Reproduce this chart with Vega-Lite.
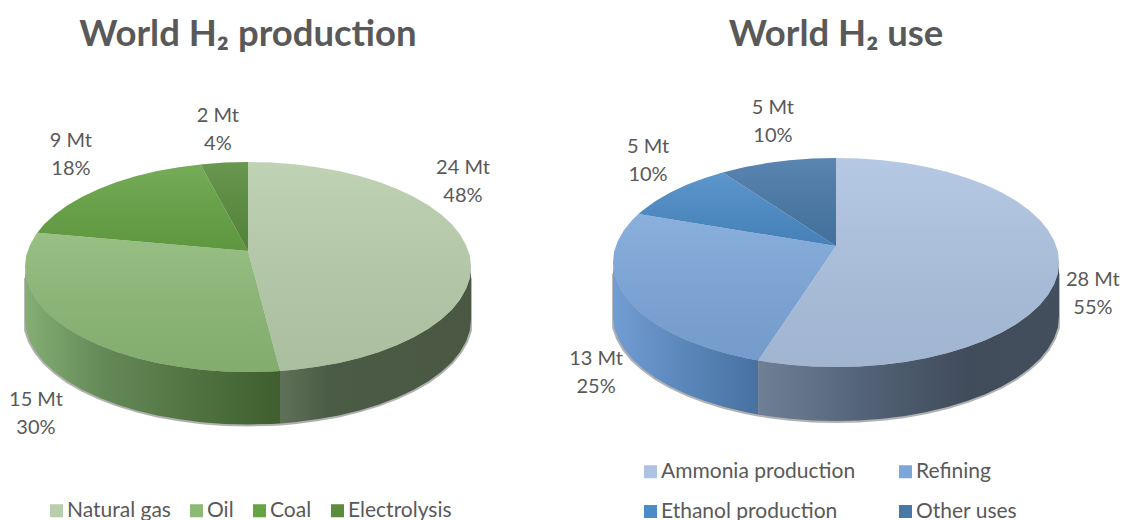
{
"$schema":"https://vega.github.io/schema/vega-lite/v6.json",
"padding":0,
"spacing":0,
"background":"white",
"config":{"view":{"stroke":null},"font":"Lato"},
"datasets":{
"productionFaces":[
{"slice":"Natural gas","v":0,"x":0,"y":0.152},{"slice":"Natural gas","v":1,"x":0,"y":1},{"slice":"Natural gas","v":2,"x":0.105,"y":0.995},{"slice":"Natural gas","v":3,"x":0.208,"y":0.978},{"slice":"Natural gas","v":4,"x":0.309,"y":0.951},{"slice":"Natural gas","v":5,"x":0.407,"y":0.914},{"slice":"Natural gas","v":6,"x":0.5,"y":0.866},{"slice":"Natural gas","v":7,"x":0.588,"y":0.809},{"slice":"Natural gas","v":8,"x":0.669,"y":0.743},{"slice":"Natural gas","v":9,"x":0.743,"y":0.669},{"slice":"Natural gas","v":10,"x":0.809,"y":0.588},{"slice":"Natural gas","v":11,"x":0.866,"y":0.5},{"slice":"Natural gas","v":12,"x":0.914,"y":0.407},{"slice":"Natural gas","v":13,"x":0.951,"y":0.309},{"slice":"Natural gas","v":14,"x":0.978,"y":0.208},{"slice":"Natural gas","v":15,"x":0.995,"y":0.105},{"slice":"Natural gas","v":16,"x":1,"y":0},{"slice":"Natural gas","v":17,"x":0.995,"y":-0.105},{"slice":"Natural gas","v":18,"x":0.978,"y":-0.208},{"slice":"Natural gas","v":19,"x":0.951,"y":-0.309},{"slice":"Natural gas","v":20,"x":0.914,"y":-0.407},{"slice":"Natural gas","v":21,"x":0.866,"y":-0.5},{"slice":"Natural gas","v":22,"x":0.809,"y":-0.588},{"slice":"Natural gas","v":23,"x":0.743,"y":-0.669},{"slice":"Natural gas","v":24,"x":0.669,"y":-0.743},{"slice":"Natural gas","v":25,"x":0.588,"y":-0.809},{"slice":"Natural gas","v":26,"x":0.5,"y":-0.866},{"slice":"Natural gas","v":27,"x":0.407,"y":-0.914},{"slice":"Natural gas","v":28,"x":0.309,"y":-0.951},{"slice":"Natural gas","v":29,"x":0.208,"y":-0.978},{"slice":"Natural gas","v":30,"x":0.1435,"y":-0.9897},
{"slice":"Oil","v":0,"x":0,"y":0.152},{"slice":"Oil","v":1,"x":0.1435,"y":-0.9897},{"slice":"Oil","v":2,"x":0.105,"y":-0.995},{"slice":"Oil","v":3,"x":0,"y":-1},{"slice":"Oil","v":4,"x":-0.105,"y":-0.995},{"slice":"Oil","v":5,"x":-0.208,"y":-0.978},{"slice":"Oil","v":6,"x":-0.309,"y":-0.951},{"slice":"Oil","v":7,"x":-0.407,"y":-0.914},{"slice":"Oil","v":8,"x":-0.5,"y":-0.866},{"slice":"Oil","v":9,"x":-0.588,"y":-0.809},{"slice":"Oil","v":10,"x":-0.669,"y":-0.743},{"slice":"Oil","v":11,"x":-0.743,"y":-0.669},{"slice":"Oil","v":12,"x":-0.809,"y":-0.588},{"slice":"Oil","v":13,"x":-0.866,"y":-0.5},{"slice":"Oil","v":14,"x":-0.914,"y":-0.407},{"slice":"Oil","v":15,"x":-0.951,"y":-0.309},{"slice":"Oil","v":16,"x":-0.978,"y":-0.208},{"slice":"Oil","v":17,"x":-0.995,"y":-0.105},{"slice":"Oil","v":18,"x":-1,"y":0},{"slice":"Oil","v":19,"x":-0.995,"y":0.105},{"slice":"Oil","v":20,"x":-0.978,"y":0.208},{"slice":"Oil","v":21,"x":-0.951,"y":0.309},{"slice":"Oil","v":22,"x":-0.945,"y":0.327},
{"slice":"Coal","v":0,"x":0,"y":0.152},{"slice":"Coal","v":1,"x":-0.945,"y":0.327},{"slice":"Coal","v":2,"x":-0.914,"y":0.407},{"slice":"Coal","v":3,"x":-0.866,"y":0.5},{"slice":"Coal","v":4,"x":-0.809,"y":0.588},{"slice":"Coal","v":5,"x":-0.743,"y":0.669},{"slice":"Coal","v":6,"x":-0.669,"y":0.743},{"slice":"Coal","v":7,"x":-0.588,"y":0.809},{"slice":"Coal","v":8,"x":-0.5,"y":0.866},{"slice":"Coal","v":9,"x":-0.407,"y":0.914},{"slice":"Coal","v":10,"x":-0.309,"y":0.951},{"slice":"Coal","v":11,"x":-0.213,"y":0.977},
{"slice":"Electrolysis","v":0,"x":0,"y":0.152},{"slice":"Electrolysis","v":1,"x":-0.213,"y":0.977},{"slice":"Electrolysis","v":2,"x":-0.105,"y":0.995},{"slice":"Electrolysis","v":3,"x":0,"y":1}
],
"productionWalls":[
{"slice":"Natural gas","x":1,"y":0,"y2":-0.5},{"slice":"Natural gas","x":0.995,"y":-0.105,"y2":-0.605},{"slice":"Natural gas","x":0.978,"y":-0.208,"y2":-0.708},{"slice":"Natural gas","x":0.951,"y":-0.309,"y2":-0.809},{"slice":"Natural gas","x":0.914,"y":-0.407,"y2":-0.907},{"slice":"Natural gas","x":0.866,"y":-0.5,"y2":-1},{"slice":"Natural gas","x":0.809,"y":-0.588,"y2":-1.088},{"slice":"Natural gas","x":0.743,"y":-0.669,"y2":-1.169},{"slice":"Natural gas","x":0.669,"y":-0.743,"y2":-1.243},{"slice":"Natural gas","x":0.588,"y":-0.809,"y2":-1.309},{"slice":"Natural gas","x":0.5,"y":-0.866,"y2":-1.366},{"slice":"Natural gas","x":0.407,"y":-0.914,"y2":-1.414},{"slice":"Natural gas","x":0.309,"y":-0.951,"y2":-1.451},{"slice":"Natural gas","x":0.208,"y":-0.978,"y2":-1.478},{"slice":"Natural gas","x":0.1435,"y":-0.9897,"y2":-1.4897},
{"slice":"Oil","x":0.1435,"y":-0.9897,"y2":-1.4897},{"slice":"Oil","x":0.105,"y":-0.995,"y2":-1.495},{"slice":"Oil","x":0,"y":-1,"y2":-1.5},{"slice":"Oil","x":-0.105,"y":-0.995,"y2":-1.495},{"slice":"Oil","x":-0.208,"y":-0.978,"y2":-1.478},{"slice":"Oil","x":-0.309,"y":-0.951,"y2":-1.451},{"slice":"Oil","x":-0.407,"y":-0.914,"y2":-1.414},{"slice":"Oil","x":-0.5,"y":-0.866,"y2":-1.366},{"slice":"Oil","x":-0.588,"y":-0.809,"y2":-1.309},{"slice":"Oil","x":-0.669,"y":-0.743,"y2":-1.243},{"slice":"Oil","x":-0.743,"y":-0.669,"y2":-1.169},{"slice":"Oil","x":-0.809,"y":-0.588,"y2":-1.088},{"slice":"Oil","x":-0.866,"y":-0.5,"y2":-1},{"slice":"Oil","x":-0.914,"y":-0.407,"y2":-0.907},{"slice":"Oil","x":-0.951,"y":-0.309,"y2":-0.809},{"slice":"Oil","x":-0.978,"y":-0.208,"y2":-0.708},{"slice":"Oil","x":-0.995,"y":-0.105,"y2":-0.605},{"slice":"Oil","x":-1,"y":0,"y2":-0.5}
],
"productionLabels":[
{"label":"24 Mt\n48%","x":0.964,"y":0.943},{"label":"15 Mt\n30%","x":-0.951,"y":-1.267},{"label":"9 Mt\n18%","x":-0.794,"y":1.2},{"label":"2 Mt\n4%","x":-0.135,"y":1.438}
],
"useFaces":[
{"slice":"Ammonia production","v":0,"x":0,"y":0.158},{"slice":"Ammonia production","v":1,"x":0,"y":1},{"slice":"Ammonia production","v":2,"x":0.105,"y":0.995},{"slice":"Ammonia production","v":3,"x":0.208,"y":0.978},{"slice":"Ammonia production","v":4,"x":0.309,"y":0.951},{"slice":"Ammonia production","v":5,"x":0.407,"y":0.914},{"slice":"Ammonia production","v":6,"x":0.5,"y":0.866},{"slice":"Ammonia production","v":7,"x":0.588,"y":0.809},{"slice":"Ammonia production","v":8,"x":0.669,"y":0.743},{"slice":"Ammonia production","v":9,"x":0.743,"y":0.669},{"slice":"Ammonia production","v":10,"x":0.809,"y":0.588},{"slice":"Ammonia production","v":11,"x":0.866,"y":0.5},{"slice":"Ammonia production","v":12,"x":0.914,"y":0.407},{"slice":"Ammonia production","v":13,"x":0.951,"y":0.309},{"slice":"Ammonia production","v":14,"x":0.978,"y":0.208},{"slice":"Ammonia production","v":15,"x":0.995,"y":0.105},{"slice":"Ammonia production","v":16,"x":1,"y":0},{"slice":"Ammonia production","v":17,"x":0.995,"y":-0.105},{"slice":"Ammonia production","v":18,"x":0.978,"y":-0.208},{"slice":"Ammonia production","v":19,"x":0.951,"y":-0.309},{"slice":"Ammonia production","v":20,"x":0.914,"y":-0.407},{"slice":"Ammonia production","v":21,"x":0.866,"y":-0.5},{"slice":"Ammonia production","v":22,"x":0.809,"y":-0.588},{"slice":"Ammonia production","v":23,"x":0.743,"y":-0.669},{"slice":"Ammonia production","v":24,"x":0.669,"y":-0.743},{"slice":"Ammonia production","v":25,"x":0.588,"y":-0.809},{"slice":"Ammonia production","v":26,"x":0.5,"y":-0.866},{"slice":"Ammonia production","v":27,"x":0.407,"y":-0.914},{"slice":"Ammonia production","v":28,"x":0.309,"y":-0.951},{"slice":"Ammonia production","v":29,"x":0.208,"y":-0.978},{"slice":"Ammonia production","v":30,"x":0.105,"y":-0.995},{"slice":"Ammonia production","v":31,"x":0,"y":-1},{"slice":"Ammonia production","v":32,"x":-0.105,"y":-0.995},{"slice":"Ammonia production","v":33,"x":-0.208,"y":-0.978},{"slice":"Ammonia production","v":34,"x":-0.309,"y":-0.951},{"slice":"Ammonia production","v":35,"x":-0.349,"y":-0.937},
{"slice":"Refining","v":0,"x":0,"y":0.158},{"slice":"Refining","v":1,"x":-0.349,"y":-0.937},{"slice":"Refining","v":2,"x":-0.407,"y":-0.914},{"slice":"Refining","v":3,"x":-0.5,"y":-0.866},{"slice":"Refining","v":4,"x":-0.588,"y":-0.809},{"slice":"Refining","v":5,"x":-0.669,"y":-0.743},{"slice":"Refining","v":6,"x":-0.743,"y":-0.669},{"slice":"Refining","v":7,"x":-0.809,"y":-0.588},{"slice":"Refining","v":8,"x":-0.866,"y":-0.5},{"slice":"Refining","v":9,"x":-0.914,"y":-0.407},{"slice":"Refining","v":10,"x":-0.951,"y":-0.309},{"slice":"Refining","v":11,"x":-0.978,"y":-0.208},{"slice":"Refining","v":12,"x":-0.995,"y":-0.105},{"slice":"Refining","v":13,"x":-1,"y":0},{"slice":"Refining","v":14,"x":-0.995,"y":0.105},{"slice":"Refining","v":15,"x":-0.978,"y":0.208},{"slice":"Refining","v":16,"x":-0.951,"y":0.309},{"slice":"Refining","v":17,"x":-0.914,"y":0.407},{"slice":"Refining","v":18,"x":-0.886,"y":0.463},
{"slice":"Ethanol production","v":0,"x":0,"y":0.158},{"slice":"Ethanol production","v":1,"x":-0.886,"y":0.463},{"slice":"Ethanol production","v":2,"x":-0.866,"y":0.5},{"slice":"Ethanol production","v":3,"x":-0.809,"y":0.588},{"slice":"Ethanol production","v":4,"x":-0.743,"y":0.669},{"slice":"Ethanol production","v":5,"x":-0.669,"y":0.743},{"slice":"Ethanol production","v":6,"x":-0.588,"y":0.809},{"slice":"Ethanol production","v":7,"x":-0.508,"y":0.862},
{"slice":"Other uses","v":0,"x":0,"y":0.158},{"slice":"Other uses","v":1,"x":-0.508,"y":0.862},{"slice":"Other uses","v":2,"x":-0.407,"y":0.914},{"slice":"Other uses","v":3,"x":-0.309,"y":0.951},{"slice":"Other uses","v":4,"x":-0.208,"y":0.978},{"slice":"Other uses","v":5,"x":-0.105,"y":0.995},{"slice":"Other uses","v":6,"x":0,"y":1}
],
"useWalls":[
{"slice":"Ammonia production","x":1,"y":0,"y2":-0.517},{"slice":"Ammonia production","x":0.995,"y":-0.105,"y2":-0.622},{"slice":"Ammonia production","x":0.978,"y":-0.208,"y2":-0.725},{"slice":"Ammonia production","x":0.951,"y":-0.309,"y2":-0.826},{"slice":"Ammonia production","x":0.914,"y":-0.407,"y2":-0.924},{"slice":"Ammonia production","x":0.866,"y":-0.5,"y2":-1.017},{"slice":"Ammonia production","x":0.809,"y":-0.588,"y2":-1.105},{"slice":"Ammonia production","x":0.743,"y":-0.669,"y2":-1.186},{"slice":"Ammonia production","x":0.669,"y":-0.743,"y2":-1.26},{"slice":"Ammonia production","x":0.588,"y":-0.809,"y2":-1.326},{"slice":"Ammonia production","x":0.5,"y":-0.866,"y2":-1.383},{"slice":"Ammonia production","x":0.407,"y":-0.914,"y2":-1.431},{"slice":"Ammonia production","x":0.309,"y":-0.951,"y2":-1.468},{"slice":"Ammonia production","x":0.208,"y":-0.978,"y2":-1.495},{"slice":"Ammonia production","x":0.105,"y":-0.995,"y2":-1.512},{"slice":"Ammonia production","x":0,"y":-1,"y2":-1.517},{"slice":"Ammonia production","x":-0.105,"y":-0.995,"y2":-1.512},{"slice":"Ammonia production","x":-0.208,"y":-0.978,"y2":-1.495},{"slice":"Ammonia production","x":-0.309,"y":-0.951,"y2":-1.468},{"slice":"Ammonia production","x":-0.349,"y":-0.937,"y2":-1.454},
{"slice":"Refining","x":-0.349,"y":-0.937,"y2":-1.454},{"slice":"Refining","x":-0.407,"y":-0.914,"y2":-1.431},{"slice":"Refining","x":-0.5,"y":-0.866,"y2":-1.383},{"slice":"Refining","x":-0.588,"y":-0.809,"y2":-1.326},{"slice":"Refining","x":-0.669,"y":-0.743,"y2":-1.26},{"slice":"Refining","x":-0.743,"y":-0.669,"y2":-1.186},{"slice":"Refining","x":-0.809,"y":-0.588,"y2":-1.105},{"slice":"Refining","x":-0.866,"y":-0.5,"y2":-1.017},{"slice":"Refining","x":-0.914,"y":-0.407,"y2":-0.924},{"slice":"Refining","x":-0.951,"y":-0.309,"y2":-0.826},{"slice":"Refining","x":-0.978,"y":-0.208,"y2":-0.725},{"slice":"Refining","x":-0.995,"y":-0.105,"y2":-0.622},{"slice":"Refining","x":-1,"y":0,"y2":-0.517}
],
"useLabels":[
{"label":"28 Mt\n55%","x":1.152,"y":-0.167},{"label":"13 Mt\n25%","x":-1.076,"y":-0.923},{"label":"5 Mt\n10%","x":-0.843,"y":1.105},{"label":"5 Mt\n10%","x":-0.283,"y":1.478}
]
},
"hconcat":[
{
"width":561,"height":520,
"encoding":{
"x":{"field":"x","type":"quantitative","axis":null,"scale":{"domain":[-1.1121,1.4036],"nice":false,"zero":false}},
"y":{"field":"y","type":"quantitative","axis":null,"scale":{"domain":[-2.4095,2.5429],"nice":false,"zero":false}}
},
"layer":[
{"data":{"name":"productionWalls"},"transform":[{"filter":"abs(datum.x) < 1"}],"mark":{"type":"area","orient":"vertical","color":"#222222","stroke":"#222222","strokeWidth":4,"opacity":0.35},"encoding":{"y2":{"field":"y2"}}},
{"data":{"name":"productionWalls"},"transform":[{"filter":"datum.slice === 'Oil'"}],"mark":{"type":"area","orient":"vertical","color":{"gradient":"linear","x1":0,"y1":0,"x2":1,"y2":0,"stops":[{"offset":0,"color":"#84AE74"},{"offset":0.3,"color":"#648A58"},{"offset":0.7,"color":"#4F703F"},{"offset":1,"color":"#3F5F2E"}]}},"encoding":{"y2":{"field":"y2"}}},
{"data":{"name":"productionWalls"},"transform":[{"filter":"datum.slice === 'Natural gas'"}],"mark":{"type":"area","orient":"vertical","color":{"gradient":"linear","x1":0,"y1":0,"x2":1,"y2":0,"stops":[{"offset":0,"color":"#5F7258"},{"offset":0.25,"color":"#4B5C46"},{"offset":1,"color":"#4A5743"}]}},"encoding":{"y2":{"field":"y2"}}},
{"data":{"name":"productionFaces"},"mark":{"type":"line","filled":true,"strokeWidth":0},
"encoding":{"color":{"field":"slice","type":"nominal","scale":{"domain":["Natural gas","Oil","Coal","Electrolysis"],"range":["#B8CEAC","#8DB977","#66A345","#5A8C3C"]},
"legend":{"title":null,"orient":"none","direction":"horizontal","legendX":46,"legendY":500,"columns":4,"symbolType":"square","symbolSize":170,"symbolStrokeWidth":0,"labelFont":"Lato","labelFontSize":21,"labelColor":"#595959","columnPadding":15,"labelOffset":0,"labelLimit":300}},"order":{"field":"v"}}},
{"data":{"name":"productionFaces"},"mark":{"type":"line","filled":true,"strokeWidth":0,"color":{"gradient":"linear","x1":0,"y1":0,"x2":0,"y2":1,"stops":[{"offset":0,"color":"rgba(255,255,255,0.1)"},{"offset":1,"color":"rgba(0,0,0,0.07)"}]}},"encoding":{"detail":{"field":"slice"},"order":{"field":"v"}}},
{"data":{"name":"productionLabels"},"mark":{"type":"text","lineBreak":"\n","lineHeight":28,"fontSize":20,"font":"Lato","color":"#595959"},"encoding":{"text":{"field":"label"}}},
{"data":{"values":[{"title":"World H₂ production","x":0,"y":2.21}]},"mark":{"type":"text","fontSize":36.5,"font":"Lato","fontWeight":"bold","color":"#595959"},"encoding":{"text":{"field":"title"}}}
]
},
{
"width":561,"height":520,
"encoding":{
"x":{"field":"x","type":"quantitative","axis":null,"scale":{"domain":[-1.2332,1.2825],"nice":false,"zero":false}},
"y":{"field":"y","type":"quantitative","axis":null,"scale":{"domain":[-2.4641,2.512],"nice":false,"zero":false}}
},
"layer":[
{"data":{"name":"useWalls"},"transform":[{"filter":"abs(datum.x) < 1"}],"mark":{"type":"area","orient":"vertical","color":"#222222","stroke":"#222222","strokeWidth":4,"opacity":0.35},"encoding":{"y2":{"field":"y2"}}},
{"data":{"name":"useWalls"},"transform":[{"filter":"datum.slice === 'Refining'"}],"mark":{"type":"area","orient":"vertical","color":{"gradient":"linear","x1":0,"y1":0,"x2":1,"y2":0,"stops":[{"offset":0,"color":"#719DD3"},{"offset":0.5,"color":"#5A86BA"},{"offset":1,"color":"#47719F"}]}},"encoding":{"y2":{"field":"y2"}}},
{"data":{"name":"useWalls"},"transform":[{"filter":"datum.slice === 'Ammonia production'"}],"mark":{"type":"area","orient":"vertical","color":{"gradient":"linear","x1":0,"y1":0,"x2":1,"y2":0,"stops":[{"offset":0,"color":"#6F8096"},{"offset":0.4,"color":"#505F73"},{"offset":0.7,"color":"#414C5B"},{"offset":1,"color":"#444F5E"}]}},"encoding":{"y2":{"field":"y2"}}},
{"data":{"name":"useFaces"},"mark":{"type":"line","filled":true,"strokeWidth":0},
"encoding":{"color":{"field":"slice","type":"nominal","scale":{"domain":["Ammonia production","Refining","Ethanol production","Other uses"],"range":["#ADC3E1","#7DA7DA","#4B8BC7","#4878A8"]},
"legend":{"title":null,"orient":"none","direction":"horizontal","legendX":79,"legendY":461,"columns":2,"symbolType":"square","symbolSize":170,"symbolStrokeWidth":0,"labelFont":"Lato","labelFontSize":21,"labelColor":"#595959","columnPadding":39,"rowPadding":18,"labelOffset":0,"labelLimit":300}},"order":{"field":"v"}}},
{"data":{"name":"useFaces"},"mark":{"type":"line","filled":true,"strokeWidth":0,"color":{"gradient":"linear","x1":0,"y1":0,"x2":0,"y2":1,"stops":[{"offset":0,"color":"rgba(255,255,255,0.1)"},{"offset":1,"color":"rgba(0,0,0,0.07)"}]}},"encoding":{"detail":{"field":"slice"},"order":{"field":"v"}}},
{"data":{"name":"useLabels"},"mark":{"type":"text","lineBreak":"\n","lineHeight":28,"fontSize":20,"font":"Lato","color":"#595959"},"encoding":{"text":{"field":"label"}}},
{"data":{"values":[{"title":"World H₂ use","x":0,"y":2.177}]},"mark":{"type":"text","fontSize":36.5,"font":"Lato","fontWeight":"bold","color":"#595959"},"encoding":{"text":{"field":"title"}}}
]
}
],
"resolve":{"scale":{"color":"independent"}}
}
